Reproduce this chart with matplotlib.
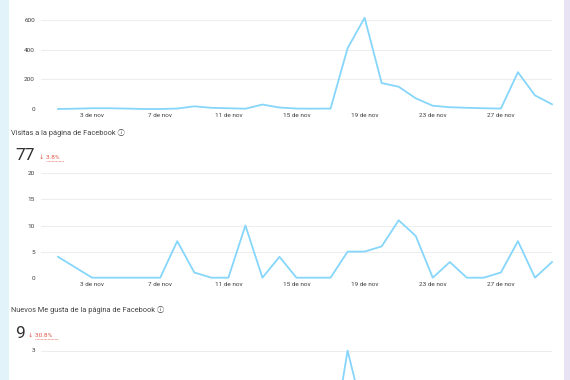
import matplotlib
matplotlib.use("Agg")
import matplotlib.pyplot as plt
from matplotlib.lines import Line2D
from matplotlib.patches import Rectangle

plt.rcParams['font.family'] = ['Roboto', 'DejaVu Sans', 'Noto Sans CJK SC']

days = list(range(1, 31))
tick_days = [3, 7, 11, 15, 19, 23, 27]
tick_labels = ["%d de nov" % d for d in tick_days]

# primer panel (su título queda fuera de la vista)
reach = [0, 2, 5, 5, 3, 0, 0, 3, 18, 8, 5, 2, 30, 10, 3, 2, 3,
         410, 615, 175, 150, 72, 22, 12, 8, 5, 3, 248, 92, 32]
# visitas a la página
visits = [4, 2, 0, 0, 0, 0, 0, 7, 1, 0, 0, 10, 0, 4, 0, 0, 0,
          5, 5, 6, 11, 8, 0, 3, 0, 0, 1, 7, 0, 3]
# nuevos me gusta
likes = [0, 0, 0, 0, 0, 0, 0, 1, 0, 0, 0, 1, 0, 0, 0, 0, 0,
         3, 1, 0, 1, 0, 0, 1, 0, 0, 0, 1, 0, 0]

W, H = 570, 380
fig = plt.figure(figsize=(W / 100, H / 100), dpi=100)
fig.patch.set_facecolor("white")

def fx(x):
    return x / W

def fy(y):
    return 1 - y / H

# side strips
fig.add_artist(Rectangle((0, 0), fx(9), 1, transform=fig.transFigure,
                         facecolor="#e3f3fa", edgecolor="none"))
fig.add_artist(Rectangle((fx(564), 0), fx(6), 1, transform=fig.transFigure,
                         facecolor="#e7e3f5", edgecolor="none"))

line_col = "#86d6fb"
grid_col = "#ededed"
tick_col = "#3f3f3f"

def make_axes(top_px, bottom_px, data, ymax, yticks, show_x=True):
    ax = fig.add_axes([fx(41), fy(bottom_px), fx(552) - fx(41),
                       (bottom_px - top_px) / H])
    ax.plot(days, data, color=line_col, lw=1.3, clip_on=False, zorder=3)
    ax.set_xlim(0, 30)
    ax.set_ylim(0, ymax)
    ax.set_yticks(yticks)
    ax.set_yticklabels([str(v) for v in yticks])
    ax.set_xticks(tick_days)
    ax.set_xticklabels(tick_labels if show_x else [])
    ax.tick_params(length=0, labelsize=4.6, colors=tick_col)
    ax.tick_params(axis="y", pad=4.3)
    ax.tick_params(axis="x", pad=2.8)
    for s in ax.spines.values():
        s.set_visible(False)
    ax.grid(axis="y", color=grid_col, lw=0.8)
    ax.set_axisbelow(True)
    ax.patch.set_alpha(0)
    return ax

make_axes(20, 109, reach, 600, [0, 200, 400, 600])
make_axes(173.3, 277.7, visits, 20, [0, 5, 10, 15, 20])
make_axes(350.5, 455, likes, 3, [3], show_x=False)

def header(y_title, y_num, title, num, pct, num_w):
    fig.text(fx(11), fy(y_title), title + " \u24d8", fontsize=5.3,
             color="#444444", va="center", ha="left")
    fig.text(fx(15), fy(y_num), num, fontsize=12.5, color="#333333",
             va="center", ha="left")
    fig.text(fx(15 + num_w + 4), fy(y_num + 2), "\u2193 " + pct,
             fontsize=4.6, color="#e2584a", va="center", ha="left")
    x0 = 15 + num_w + 11
    fig.add_artist(Line2D([fx(x0), fx(x0 + 4.6 * len(pct))],
                          [fy(y_num + 6), fy(y_num + 6)],
                          transform=fig.transFigure, color="#e2584a",
                          lw=0.5, ls=(0, (1, 1))))

header(133, 155, "Visitas a la página de Facebook", "77", "3.8%", 20)
header(310, 333, "Nuevos Me gusta de la página de Facebook", "9", "30.8%", 9)

fig.savefig("out.png", dpi=100, facecolor=fig.get_facecolor())
